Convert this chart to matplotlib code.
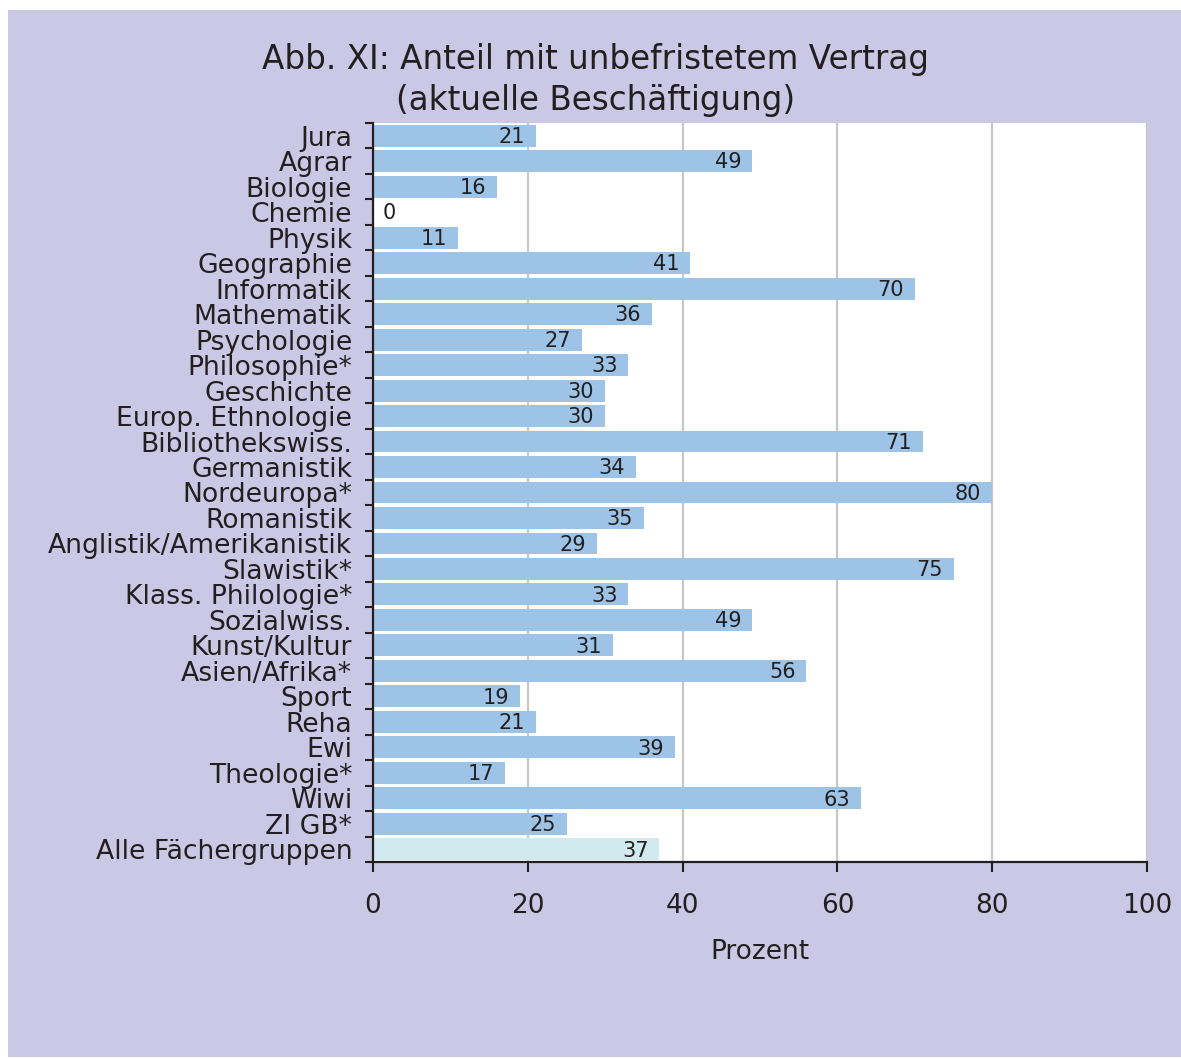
import matplotlib.pyplot as plt
from matplotlib.patches import Rectangle

plt.rcParams['font.family'] = 'DejaVu Sans'

# Anteil unbefristeter Verträge je Fächergruppe (Prozent)
faecher = ['Jura', 'Agrar', 'Biologie', 'Chemie', 'Physik', 'Geographie',
           'Informatik', 'Mathematik', 'Psychologie', 'Philosophie*',
           'Geschichte', 'Europ. Ethnologie', 'Bibliothekswiss.', 'Germanistik',
           'Nordeuropa*', 'Romanistik', 'Anglistik/Amerikanistik', 'Slawistik*',
           'Klass. Philologie*', 'Sozialwiss.', 'Kunst/Kultur', 'Asien/Afrika*',
           'Sport', 'Reha', 'Ewi', 'Theologie*', 'Wiwi', 'ZI GB*',
           'Alle Fächergruppen']
werte = [21, 49, 16, 0, 11, 41, 70, 36, 27, 33, 30, 30, 71, 34, 80, 35, 29,
         75, 33, 49, 31, 56, 19, 21, 39, 17, 63, 25, 37]
x_ticks = [0, 20, 40, 60, 80, 100]

lila = '#cbc8e5'
blau = '#9dc3e6'
hellblau = '#d0eaf0'
schrift = '#231f20'

fig = plt.figure(figsize=(11.81, 10.59), dpi=100, facecolor='white')
fig.patches.append(Rectangle((8 / 1181, 2 / 1059), 1 - 8 / 1181, 1 - 12 / 1059,
                             transform=fig.transFigure, facecolor=lila,
                             edgecolor='none', zorder=-5))

ax = fig.add_axes([373 / 1181, 1 - 862 / 1059, 774 / 1181, 739 / 1059])
ax.set_facecolor('white')

n = len(faecher)
pos = list(range(n))
farben = [blau] * (n - 1) + [hellblau]
ax.barh(pos, werte, height=0.86, color=farben, zorder=2)

for p, w in zip(pos, werte):
    if w < 5:
        ax.text(w + 1.2, p + 0.05, str(w), ha='left', va='center', fontsize=15,
                color=schrift, zorder=3)
    else:
        ax.text(w - 1.4, p + 0.05, str(w), ha='right', va='center', fontsize=15,
                color=schrift, zorder=3)

ax.set_xlim(0, 100)
ax.set_ylim(n - 0.5, -0.5)

# Kategorien an den Balkenmitten, Striche an den Grenzen
ax.set_yticks([p + 0.5 for p in range(-1, n)])
ax.set_yticklabels([])
ax.set_yticks(pos, minor=True)
ax.set_yticklabels(faecher, minor=True, fontsize=19.2, color=schrift)
ax.tick_params(axis='y', which='major', length=6, width=1.5, direction='out',
               color=schrift)
ax.tick_params(axis='y', which='minor', length=0, pad=15)

ax.set_xticks(x_ticks)
ax.set_xticklabels([str(t) for t in x_ticks], fontsize=19, color=schrift)
ax.tick_params(axis='x', length=7, width=1.5, direction='out', color=schrift,
               pad=15)
ax.xaxis.grid(True, color='#c8c8c8', linewidth=1.6, zorder=1)
ax.set_axisbelow(True)

for side in ['top', 'right']:
    ax.spines[side].set_visible(False)
for side in ['left', 'bottom']:
    ax.spines[side].set_linewidth(1.6)
    ax.spines[side].set_color(schrift)

ax.set_xlabel('Prozent', fontsize=19, color=schrift, labelpad=15)

fig.text(0.504, 1 - 80 / 1059, 'Abb. XI: Anteil mit unbefristetem Vertrag\n(aktuelle Beschäftigung)',
         ha='center', va='center', fontsize=23.5, color=schrift,
         linespacing=1.3)

fig.savefig('out.png', dpi=100, facecolor='white')
